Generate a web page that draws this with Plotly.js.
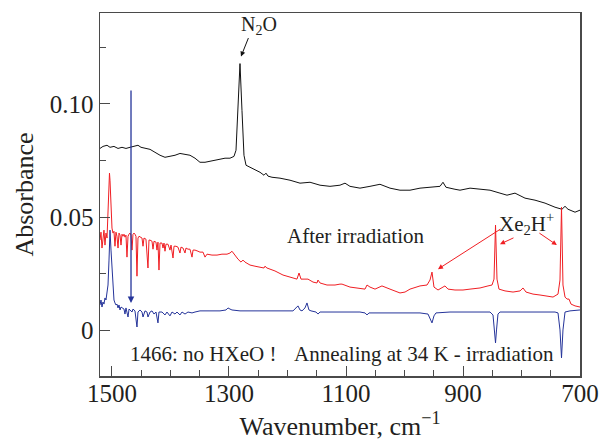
<!DOCTYPE html>
<html>
<head>
<meta charset="utf-8">
<script src="https://cdn.plot.ly/plotly-3.0.1.min.js"></script>
<style>html,body{margin:0;padding:0;background:#fff;}#chart{width:608px;height:441px;}</style>
</head>
<body>
<div id="chart"></div>
<script>
// Top spectrum (black)
const blackWn = [1520.5,1515.4,1508.5,1503.4,1496.6,1489.7,1482.9,1476.1,1469.2,1462.4,1455.6,1450.4,1443.6,1435.0,1426.5,1417.9,1409.4,1400.9,1392.3,1383.8,1375.2,1366.7,1358.1,1349.6,1341.0,1332.5,1323.9,1315.4,1306.8,1298.3,1291.5,1288.0,1284.6,1281.2,1277.8,1274.4,1270.9,1264.1,1255.6,1247.0,1240.2,1236.8,1233.3,1226.5,1212.8,1195.7,1178.6,1161.5,1144.4,1127.4,1110.3,1101.7,1093.2,1076.1,1059.0,1041.9,1024.8,1007.7,990.6,973.5,956.4,939.3,934.2,929.1,913.7,905.1,888.0,870.9,853.8,836.8,824.8,811.1,794.0,776.9,759.8,742.7,730.8,725.6,720.5,708.5,700.0];
const blackAbs = [0.0803,0.0812,0.0817,0.0808,0.0812,0.0803,0.0808,0.0803,0.0808,0.0812,0.0817,0.0808,0.0803,0.0799,0.0786,0.0773,0.0764,0.0768,0.0773,0.0781,0.0777,0.0773,0.0760,0.0742,0.0742,0.0746,0.0751,0.0755,0.0760,0.0760,0.0768,0.0795,0.0971,0.1177,0.0971,0.0773,0.0729,0.0720,0.0707,0.0698,0.0685,0.0694,0.0681,0.0676,0.0672,0.0663,0.0650,0.0654,0.0641,0.0636,0.0641,0.0650,0.0636,0.0628,0.0636,0.0645,0.0628,0.0619,0.0619,0.0628,0.0632,0.0636,0.0654,0.0632,0.0623,0.0619,0.0628,0.0623,0.0619,0.0606,0.0597,0.0606,0.0584,0.0575,0.0562,0.0544,0.0535,0.0548,0.0535,0.0522,0.0531];

// After irradiation (red)
const redWn = [1520.5,1518.8,1517.1,1515.4,1513.7,1512.0,1510.3,1508.5,1506.8,1505.1,1504.3,1503.4,1501.7,1500,1498.3,1496.6,1494.9,1493.2,1491.5,1489.7,1488.0,1486.3,1484.6,1482.9,1481.2,1479.5,1477.8,1476.1,1474.4,1472.6,1470.9,1469.2,1467.5,1465.8,1464.1,1462.4,1460.7,1459.0,1457.3,1455.6,1453.8,1452.1,1448.7,1447.0,1445.3,1441.9,1438.5,1436.8,1435.0,1431.6,1429.9,1428.2,1424.8,1423.1,1421.4,1419.7,1417.9,1414.5,1412.8,1411.1,1409.4,1407.7,1404.3,1400.9,1399.1,1395.7,1394.0,1390.6,1387.2,1383.8,1382.1,1378.6,1375.2,1373.5,1370.1,1366.7,1363.2,1361.5,1358.1,1353.0,1349.6,1344.4,1341.0,1337.6,1329.1,1320.5,1312.0,1303.4,1298.3,1294.9,1291.5,1284.6,1279.5,1276.1,1272.6,1264.1,1255.6,1247.0,1240.2,1238.5,1235.1,1221.4,1207.7,1195.7,1183.8,1180.3,1176.9,1170.1,1165.0,1156.4,1149.6,1147.9,1144.4,1132.5,1118.8,1110.3,1106.8,1093.2,1079.5,1067.5,1064.1,1059.0,1050.4,1038.5,1024.8,1007.7,999.1,990.6,973.5,961.5,956.4,953.0,949.6,942.7,930.8,925.6,913.7,900.0,888.0,870.9,857.3,850.4,847.0,844.4,841.9,838.5,828.2,814.5,802.5,797.4,792.3,780.3,768.4,756.4,746.1,737.6,734.2,731.6,729.1,725.6,722.2,718.8,715.4,708.5,700.0];
const redAbs = [0.0399,0.0434,0.0364,0.0416,0.0443,0.0377,0.0430,0.0408,0.0509,0.0641,0.0694,0.0663,0.0553,0.0452,0.0430,0.0438,0.0372,0.0434,0.0416,0.0364,0.0430,0.0421,0.0377,0.0425,0.0416,0.0425,0.0412,0.0421,0.0324,0.0416,0.0425,0.0430,0.0421,0.0355,0.0425,0.0430,0.0425,0.0416,0.0240,0.0408,0.0416,0.0412,0.0408,0.0372,0.0408,0.0403,0.0276,0.0399,0.0399,0.0394,0.0359,0.0394,0.0390,0.0355,0.0390,0.0267,0.0386,0.0386,0.0364,0.0386,0.0350,0.0381,0.0381,0.0355,0.0377,0.0320,0.0372,0.0372,0.0368,0.0342,0.0368,0.0364,0.0342,0.0364,0.0359,0.0359,0.0324,0.0355,0.0355,0.0350,0.0346,0.0346,0.0324,0.0337,0.0333,0.0333,0.0337,0.0337,0.0342,0.0350,0.0337,0.0315,0.0302,0.0311,0.0302,0.0289,0.0284,0.0280,0.0276,0.0284,0.0276,0.0263,0.0245,0.0236,0.0227,0.0254,0.0227,0.0227,0.0227,0.0214,0.0210,0.0223,0.0210,0.0201,0.0201,0.0205,0.0205,0.0192,0.0188,0.0183,0.0201,0.0192,0.0183,0.0197,0.0183,0.0166,0.0170,0.0183,0.0197,0.0201,0.0223,0.0258,0.0192,0.0179,0.0197,0.0183,0.0179,0.0179,0.0183,0.0188,0.0197,0.0201,0.0227,0.0465,0.0227,0.0183,0.0175,0.0170,0.0175,0.0188,0.0170,0.0161,0.0157,0.0153,0.0148,0.0161,0.0223,0.0544,0.0201,0.0148,0.0139,0.0139,0.0117,0.0109,0.0104];

// Annealing at 34 K - irradiation (blue)
const blueWn = [1520.5,1518.8,1517.1,1515.4,1513.7,1512.0,1510.3,1508.5,1506.8,1505.1,1503.4,1501.7,1500,1498.3,1496.6,1494.9,1493.2,1491.5,1489.7,1488.0,1486.3,1484.6,1482.9,1479.5,1477.8,1476.1,1472.6,1470.9,1469.2,1465.8,1464.1,1460.7,1457.3,1455.6,1452.1,1448.7,1447.0,1443.6,1440.2,1438.5,1435.0,1431.6,1428.2,1424.8,1421.4,1419.7,1414.5,1409.4,1406.0,1400.9,1397.4,1392.3,1388.9,1383.8,1380.3,1375.2,1370.1,1363.2,1358.1,1349.6,1332.5,1315.4,1305.1,1301.7,1298.3,1294.9,1281.2,1247.0,1212.8,1190.6,1185.5,1182.1,1178.6,1175.2,1170.1,1166.7,1163.3,1159.8,1151.3,1147.9,1144.4,1110.3,1076.1,1067.5,1064.1,1060.7,1041.9,1007.7,973.5,959.8,956.4,953.0,949.6,946.2,922.2,888.0,853.8,848.7,846.1,844.4,842.7,840.2,836.8,802.5,768.4,742.7,737.6,734.2,731.6,729.1,725.6,717.1,700.0];
const blueAbs = [0.0113,0.0135,0.0104,0.0126,0.0117,0.0144,0.0135,0.0166,0.0201,0.0311,0.0443,0.0355,0.0258,0.0170,0.0135,0.0122,0.0113,0.0117,0.0100,0.0113,0.0091,0.0104,0.0100,0.0095,0.0073,0.0100,0.0060,0.0095,0.0091,0.0082,0.0095,0.0087,0.0016,0.0082,0.0091,0.0082,0.0060,0.0087,0.0082,0.0060,0.0082,0.0087,0.0073,0.0082,0.0034,0.0082,0.0082,0.0069,0.0082,0.0065,0.0082,0.0073,0.0082,0.0069,0.0082,0.0073,0.0082,0.0078,0.0082,0.0087,0.0087,0.0087,0.0091,0.0100,0.0095,0.0091,0.0087,0.0087,0.0087,0.0087,0.0100,0.0109,0.0091,0.0087,0.0100,0.0122,0.0091,0.0087,0.0082,0.0073,0.0082,0.0082,0.0082,0.0078,0.0069,0.0078,0.0078,0.0078,0.0078,0.0073,0.0056,0.0034,0.0065,0.0078,0.0082,0.0082,0.0082,0.0069,0.0003,-0.0054,0.0003,0.0073,0.0082,0.0082,0.0082,0.0082,0.0078,0.0003,-0.0120,0.0003,0.0082,0.0087,0.0091];

const xTickVals = [1500,1300,1100,900,700];
const xTickText = ['1500','1300','1100','900','700'];
const yTickVals = [0,0.05,0.10];
const yTickText = ['0','0.05','0.10'];

const FONT = 'Liberation Serif, Times New Roman, serif';
const TXT = '#231f20';
const RED = '#f01e23';
const BLUE = '#25349a';
const AX = '#4a4a4a';

const traces = [
  {x: blackWn, y: blackAbs, type:'scatter', mode:'lines', line:{color:'#111', width:1}, hoverinfo:'skip', name:'before'},
  {x: redWn, y: redAbs, type:'scatter', mode:'lines', line:{color:RED, width:1}, hoverinfo:'skip', name:'After irradiation'},
  {x: blueWn, y: blueAbs, type:'scatter', mode:'lines', line:{color:BLUE, width:1}, hoverinfo:'skip', name:'Annealing'}
];

const annFont = {family: FONT, size: 21, color: TXT};
const annotations = [
  {x: 1248.7, y: 0.1345, xref:'x', yref:'y', text:'N<sub>2</sub>O', showarrow:false, font:{family:FONT,size:20,color:TXT}},
  {x: 1279.5, y: 0.1208, xref:'x', yref:'y', text:'', showarrow:true, ax:8, ay:-20, arrowhead:2, arrowsize:1, arrowwidth:1, arrowcolor:'#111', standoff:0},
  {x: 1083, y: 0.0416, xref:'x', yref:'y', text:'After irradiation', showarrow:false, font:annFont},
  {x: 790.7, y: 0.0474, xref:'x', yref:'y', text:'Xe<sub>2</sub>H<sup>+</sup>', showarrow:false, font:annFont},
  {x: 942.8, y: 0.0271, xref:'x', yref:'y', text:'', showarrow:true, ax:64, ay:-41, arrowhead:2, arrowsize:1, arrowwidth:1, arrowcolor:RED, standoff:0},
  {x: 836.8, y: 0.0381, xref:'x', yref:'y', text:'', showarrow:true, ax:15, ay:-7, arrowhead:2, arrowsize:1, arrowwidth:1, arrowcolor:RED, standoff:0},
  {x: 739.5, y: 0.0377, xref:'x', yref:'y', text:'', showarrow:true, ax:-19, ay:-13, arrowhead:2, arrowsize:1, arrowwidth:1, arrowcolor:RED, standoff:0},
  {x: 1467.5, y: 0.0122, xref:'x', yref:'y', text:'', showarrow:true, ax:0, ay:-214, arrowhead:2, arrowsize:1, arrowwidth:1.3, arrowcolor:BLUE, standoff:0},
  {x: 1343.6, y: -0.0102, xref:'x', yref:'y', text:'1466: no HXeO !', showarrow:false, font:annFont},
  {x: 966.7, y: -0.0102, xref:'x', yref:'y', text:'Annealing at 34 K - irradiation', showarrow:false, font:annFont}
];

const layout = {
  width: 608, height: 441,
  margin: {l:100, r:28, t:13, b:65, pad:0},
  paper_bgcolor:'#fff', plot_bgcolor:'#fff',
  showlegend:false,
  font:{family:FONT, color:TXT},
  xaxis: {
    range:[1520.5, 700], showgrid:false, zeroline:false,
    showline:true, mirror:true, linecolor:AX, linewidth:1.5,
    tickmode:'array', tickvals:xTickVals, ticktext:xTickText,
    ticks:'inside', ticklen:10, tickwidth:1, tickcolor:AX,
    ticklabelstandoff:-6,
    minor:{tickmode:'linear', tick0:700, dtick:50, ticks:'inside', ticklen:6, tickwidth:1, tickcolor:AX},
    tickfont:{family:FONT, size:25, color:TXT},
    title:{text:'Wavenumber, cm<sup>−1</sup>', font:{family:FONT, size:26, color:TXT}, standoff:12}
  },
  yaxis: {
    range:[-0.02, 0.14], showgrid:false, zeroline:false,
    showline:true, mirror:true, linecolor:AX, linewidth:1.5,
    tickmode:'array', tickvals:yTickVals, ticktext:yTickText,
    ticks:'inside', ticklen:10, tickwidth:1, tickcolor:AX,
    minor:{tickmode:'linear', tick0:0, dtick:0.025, ticks:'inside', ticklen:6, tickwidth:1, tickcolor:AX},
    tickfont:{family:FONT, size:25, color:TXT},
    title:{text:'Absorbance', font:{family:FONT, size:26, color:TXT}, standoff:8}
  },
  annotations: annotations
};

Plotly.newPlot('chart', traces, layout, {staticPlot:true, displayModeBar:false});
</script>
</body>
</html>
